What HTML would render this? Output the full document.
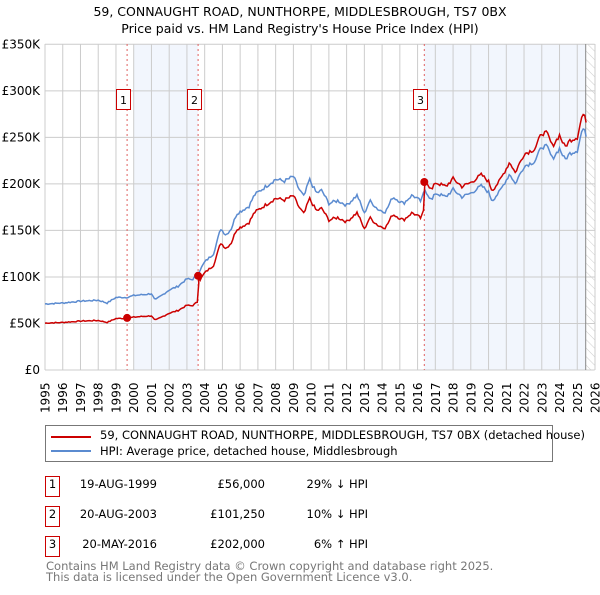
<!DOCTYPE html>
<html><head><meta charset="utf-8"><style>
body{margin:0;background:#fff;font-family:"Liberation Sans","DejaVu Sans",sans-serif;}
svg text{font-family:"DejaVu Sans","Liberation Sans",sans-serif;}
</style></head><body>
<svg id="s" width="600" height="590" xmlns="http://www.w3.org/2000/svg">
<defs><pattern id="h" width="6" height="6" patternUnits="userSpaceOnUse" patternTransform="rotate(-45)"><line x1="0" y1="0" x2="0" y2="6" stroke="#ccc" stroke-width="1"/></pattern></defs>
<text x="300" y="16" font-size="12.5" text-anchor="middle">59, CONNAUGHT ROAD, NUNTHORPE, MIDDLESBROUGH, TS7 0BX</text>
<text x="300" y="33" font-size="12.5" text-anchor="middle">Price paid vs. HM Land Registry's House Price Index (HPI)</text>
<rect x="133.7" y="44" width="64.4" height="326" fill="#eef3fc" opacity="0.75"/>
<rect x="424.3" y="44" width="161.4" height="326" fill="#eef3fc" opacity="0.75"/>
<rect x="585.7" y="44" width="9" height="326" fill="url(#h)"/>
<g id="grid" stroke="#cccccc" stroke-width="1"></g>
<line x1="585.7" y1="44" x2="585.7" y2="370" stroke="#888" stroke-width="1"/>
<g id="ylab" font-size="12" text-anchor="end"></g>
<g id="xlab" font-size="12"></g>
<g stroke="#e06060" stroke-width="1" stroke-dasharray="2,3">
<line x1="127.1" y1="44" x2="127.1" y2="370"/><line x1="198.1" y1="44" x2="198.1" y2="370"/><line x1="424.3" y1="44" x2="424.3" y2="370"/></g>
<path id="hpi" fill="none" stroke="#5b8bd0" stroke-width="1.5"/>
<path id="red" fill="none" stroke="#cc0000" stroke-width="1.5"/>
<g fill="#cc0000"><circle cx="127.1" cy="317.9" r="4"/><circle cx="198.1" cy="275.8" r="4"/><circle cx="424.3" cy="182" r="4"/></g>
<g font-size="11" text-anchor="middle">
<rect x="116.5" y="89.5" width="14" height="20" fill="#fff" stroke="#cc0000"/><text x="123.5" y="104">1</text>
<rect x="187.5" y="89.5" width="14" height="20" fill="#fff" stroke="#cc0000"/><text x="194.5" y="104">2</text>
<rect x="413.5" y="89.5" width="14" height="20" fill="#fff" stroke="#cc0000"/><text x="420.5" y="104">3</text>
</g>
<rect x="45.5" y="425.5" width="507" height="36" fill="#fff" stroke="#777"/>
<line x1="51" y1="437" x2="91" y2="437" stroke="#cc0000" stroke-width="2"/>
<line x1="51" y1="451" x2="91" y2="451" stroke="#5b8bd0" stroke-width="2"/>
<text x="100" y="439" font-size="11.5">59, CONNAUGHT ROAD, NUNTHORPE, MIDDLESBROUGH, TS7 0BX (detached house)</text>
<text x="100" y="455" font-size="11.5">HPI: Average price, detached house, Middlesbrough</text>
<g font-size="11.5">
<rect x="45.5" y="476.5" width="14" height="20" fill="#fff" stroke="#cc0000"/><text x="52.5" y="488" text-anchor="middle">1</text>
<text x="157" y="488" text-anchor="end">19-AUG-1999</text><text x="265" y="488" text-anchor="end">£56,000</text><text x="368" y="488" text-anchor="end">29% ↓ HPI</text>
<rect x="45.5" y="506.5" width="14" height="20" fill="#fff" stroke="#cc0000"/><text x="52.5" y="518" text-anchor="middle">2</text>
<text x="157" y="518" text-anchor="end">20-AUG-2003</text><text x="265" y="518" text-anchor="end">£101,250</text><text x="368" y="518" text-anchor="end">10% ↓ HPI</text>
<rect x="45.5" y="536.5" width="14" height="20" fill="#fff" stroke="#cc0000"/><text x="52.5" y="548" text-anchor="middle">3</text>
<text x="157" y="548" text-anchor="end">20-MAY-2016</text><text x="265" y="548" text-anchor="end">£202,000</text><text x="368" y="548" text-anchor="end">6% ↑ HPI</text>
</g>
<text x="46" y="570" font-size="11.5" fill="#777">Contains HM Land Registry data © Crown copyright and database right 2025.</text>
<text x="46" y="581" font-size="11.5" fill="#777">This data is licensed under the Open Government Licence v3.0.</text>
</svg>
<script>
var NS="http://www.w3.org/2000/svg";
function X(y){return 45+(y-1995)*17.742;}function Y(v){return 370-v*0.9306;}
var g=document.getElementById('grid'),yl=document.getElementById('ylab'),xl=document.getElementById('xlab');
function el(t,a,p,txt){var e=document.createElementNS(NS,t);for(var k in a)e.setAttribute(k,a[k]);if(txt)e.textContent=txt;p.appendChild(e);return e;}
for(var i=0;i<=7;i++){var v=i*50,y=Y(v);el('line',{x1:45,x2:594.7,y1:y,y2:y},g);el('text',{x:40,y:y+4},yl,v?'£'+v+'K':'£0');}
for(var yr=1995;yr<=2026;yr++){var x=X(yr);el('line',{x1:x,x2:x,y1:44,y2:370},g);el('text',{transform:'translate('+(x+4.5)+',413) rotate(-90)'},xl,''+yr);}
var K=[[1995,71],[1996,72],[1997,74],[1998,75],[1998.5,72],[1999,78],[1999.6,78],[2000,80],[2001,82],[2001.2,75],[2002,86],[2002.5,90],[2003,98],[2003.3,97],[2003.63,104],[2004,116],[2004.5,125],[2004.9,152],[2005.2,145],[2005.5,152],[2005.8,168],[2006.5,176],[2006.8,188],[2007.5,198],[2008,205],[2008.5,203],[2009,208],[2009.3,195],[2009.6,186],[2009.9,205],[2010.3,190],[2010.6,193],[2011,179],[2011.5,182],[2012,177],[2012.6,188],[2013,168],[2013.3,182],[2013.8,172],[2014.2,170],[2014.6,186],[2015.2,179],[2015.7,188],[2016.2,181],[2016.4,194],[2016.8,182],[2017,190],[2017.6,186],[2018,194],[2018.5,186],[2019,190],[2019.6,198],[2020,191],[2020.2,182],[2020.6,191],[2021.2,211],[2021.5,200],[2022,219],[2022.6,224],[2023,240],[2023.3,240],[2023.6,227],[2024,238],[2024.3,226],[2024.6,233],[2025,236],[2025.3,260],[2025.5,253]];
function interp(t){for(var i=1;i<K.length;i++){if(t<=K[i][0]){var a=K[i-1],b=K[i];return a[1]+(b[1]-a[1])*(t-a[0])/(b[0]-a[0]);}}return K[K.length-1][1];}
var seed=7;function rnd(){seed=(seed*9301+49297)%233280;return seed/233280-0.5;}
var ph='',pr='';
for(var t=1995;t<=2025.5;t+=1/12){var v=interp(t)*(1+rnd()*0.02);var r=t<2003.63?0.71:(t<2016.38?0.9:1.06);
var c=(ph?'L':'M');ph+=c+X(t).toFixed(1)+','+Y(v).toFixed(1);pr+=c+X(t).toFixed(1)+','+Y(v*r).toFixed(1);
if(Math.abs(t-2003.63)<0.042){pr+='L'+X(2003.63).toFixed(1)+','+Y(101.25).toFixed(1);}
if(Math.abs(t-2016.38)<0.042){pr+='L'+X(2016.38).toFixed(1)+','+Y(202).toFixed(1);}}
document.getElementById('hpi').setAttribute('d',ph);document.getElementById('red').setAttribute('d',pr);
</script>
</body></html>
